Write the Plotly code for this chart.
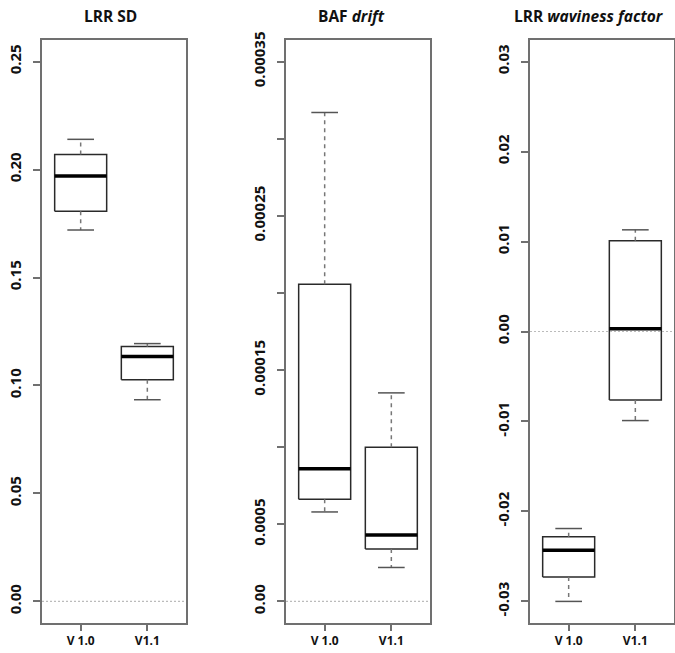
import plotly.graph_objects as go

# ---- data ----
groups = ["V 1.0", "V1.1"]
positions = [1, 2]

titles = ["<b>LRR SD</b>", "<b>BAF <i>drift</i></b>", "<b>LRR <i>waviness factor</i></b>"]

# [lower whisker, Q1, median, Q3, upper whisker] per group
lrr_sd_v10 = [0.172, 0.1807, 0.197, 0.207, 0.214]
lrr_sd_v11 = [0.0934, 0.1026, 0.1134, 0.118, 0.1194]

baf_v10 = [5.8e-5, 6.63e-5, 8.6e-5, 2.056e-4, 3.17e-4]
baf_v11 = [2.2e-5, 3.4e-5, 4.3e-5, 1.0e-4, 1.352e-4]

wav_v10 = [-0.0300, -0.0273, -0.0243, -0.0228, -0.0219]
wav_v11 = [-0.0099, -0.0076, 0.0003, 0.0101, 0.0113]

lrr_ticks = [0.0, 0.05, 0.10, 0.15, 0.20, 0.25]
lrr_ticktext = ["0.00", "0.05", "0.10", "0.15", "0.20", "0.25"]
baf_ticks = [0.0, 5e-5, 1e-4, 1.5e-4, 2e-4, 2.5e-4, 3e-4, 3.5e-4]
baf_ticktext = ["0.00", "0.0005", "", "0.00015", "", "0.00025", "", "0.00035"]
wav_ticks = [-0.03, -0.02, -0.01, 0.0, 0.01, 0.02, 0.03]
wav_ticktext = ["-0.03", "-0.02", "-0.01", "0.00", "0.01", "0.02", "0.03"]

panels = [
    dict(stats=[lrr_sd_v10, lrr_sd_v11], yr=[-0.01, 0.26], tv=lrr_ticks, tt=lrr_ticktext),
    dict(stats=[baf_v10, baf_v11], yr=[-1.4e-5, 3.64e-4], tv=baf_ticks, tt=baf_ticktext),
    dict(stats=[wav_v10, wav_v11], yr=[-0.0324, 0.0324], tv=wav_ticks, tt=wav_ticktext),
]

# ---- layout geometry (pixels -> paper) ----
W, H = 675, 653
x_px = [(42, 186), (286, 430), (530, 674)]
y_dom = [(H - 623) / H, (H - 40) / H]
HALF = 0.39
STAPLE = 0.2

fig = go.Figure()
layout = dict(
    width=W, height=H, margin=dict(l=0, r=0, t=0, b=0, autoexpand=False),
    paper_bgcolor="white", plot_bgcolor="white", showlegend=False,
    font=dict(family="Open Sans", color="#111"),
)
FRAME = "#707070"
BOXC = "#2a2a2a"

for i, p in enumerate(panels):
    n = "" if i == 0 else str(i + 1)
    xa, ya = "x" + n, "y" + n
    for pos, s in zip(positions, p["stats"]):
        lo, q1, med, q3, hi = s
        # box
        fig.add_trace(go.Scatter(
            x=[pos - HALF, pos + HALF, pos + HALF, pos - HALF, pos - HALF],
            y=[q1, q1, q3, q3, q1], mode="lines",
            line=dict(color=BOXC, width=1.5), xaxis=xa, yaxis=ya, hoverinfo="skip"))
        # median
        fig.add_trace(go.Scatter(
            x=[pos - HALF, pos + HALF], y=[med, med], mode="lines",
            line=dict(color="black", width=3.5), xaxis=xa, yaxis=ya, hoverinfo="skip"))
        # whiskers (dashed)
        for a, b in [(q3, hi), (q1, lo)]:
            fig.add_trace(go.Scatter(
                x=[pos, pos], y=[a, b], mode="lines",
                line=dict(color="#777", width=1.5, dash="4px,4px"),
                xaxis=xa, yaxis=ya, hoverinfo="skip"))
        # staples
        for v in (lo, hi):
            fig.add_trace(go.Scatter(
                x=[pos - STAPLE, pos + STAPLE], y=[v, v], mode="lines",
                line=dict(color="#555", width=1.5), xaxis=xa, yaxis=ya, hoverinfo="skip"))
    # zero reference line (dotted)
    fig.add_trace(go.Scatter(
        x=[0.42, 2.58], y=[0, 0], mode="lines",
        line=dict(color="#bbbbbb", width=1.2, dash="2px,2px"),
        xaxis=xa, yaxis=ya, hoverinfo="skip"))

    x0, x1 = x_px[i]
    layout["xaxis" + n] = dict(
        domain=[x0 / W, x1 / W], range=[0.42, 2.58], anchor=ya, automargin=False,
        tickvals=positions, ticktext=groups, ticks="outside", ticklen=6,
        tickcolor=FRAME, tickwidth=2, showline=True, linecolor=FRAME, linewidth=2,
        mirror=True, showgrid=False, zeroline=False, ticklabelstandoff=0,
        tickfont=dict(family="Open Sans", size=12, color="#111", weight="bold"),
    )
    layout["yaxis" + n] = dict(
        domain=list(y_dom), range=p["yr"], anchor=xa, automargin=False,
        tickvals=p["tv"], ticktext=p["tt"], ticks="outside", ticklen=7,
        tickcolor=FRAME, tickwidth=2, showline=True, linecolor=FRAME, linewidth=2,
        mirror=True, showgrid=False, zeroline=False, tickangle=-90,
        ticklabelstandoff=6,
        tickfont=dict(family="Open Sans", size=15, color="#111", weight="bold"),
    )

title_x = [110, 352, 589]
annotations = []
for t, cx in zip(titles, title_x):
    annotations.append(dict(
        text=t, x=cx / W, y=1 - 16 / H, xref="paper", yref="paper",
        showarrow=False, xanchor="center", yanchor="middle",
        font=dict(family="Open Sans", size=15.5, color="#111")))
layout["annotations"] = annotations

fig.update_layout(**layout)
fig.write_html("out.html")
